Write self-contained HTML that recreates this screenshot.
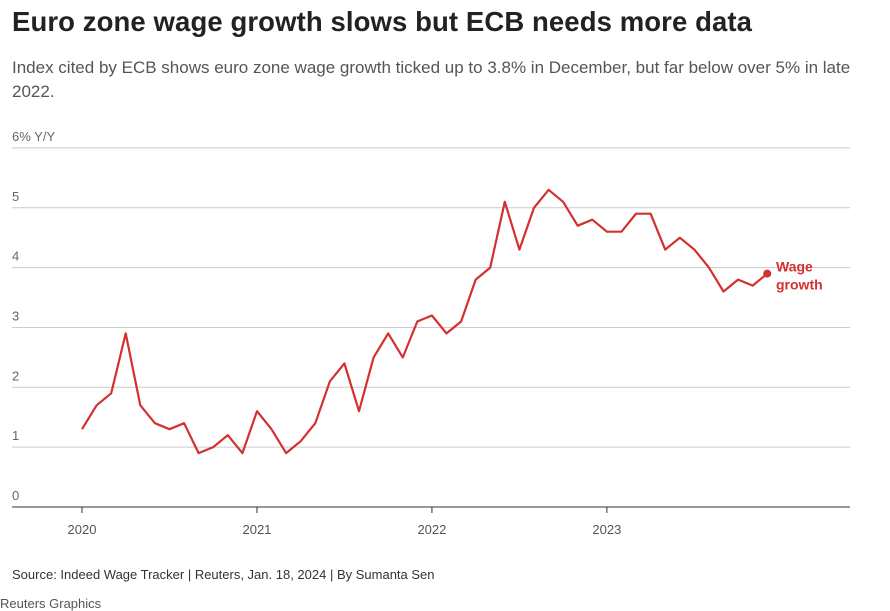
<!DOCTYPE html>
<html><head><meta charset="utf-8"><style>
body{margin:0;background:#fff;width:890px;height:602px;overflow:hidden;font-family:"Liberation Sans",sans-serif;}
#title{position:absolute;left:12px;top:6px;font-size:27.5px;font-weight:bold;color:#222;letter-spacing:0.1px}
#sub{position:absolute;left:12px;top:56px;width:840px;font-size:17px;line-height:24px;color:#555}
#src{position:absolute;left:12px;top:567px;font-size:13px;color:#333}
#brand{position:absolute;left:0;top:596px;font-size:13px;color:#555}
svg{position:absolute;left:0;top:0}
</style></head><body>
<div id="title">Euro zone wage growth slows but ECB needs more data</div>
<div id="sub">Index cited by ECB shows euro zone wage growth ticked up to 3.8% in December, but far below over 5% in late 2022.</div>
<svg id="chart" width="890" height="602"></svg>
<div id="src">Source: Indeed Wage Tracker | Reuters, Jan. 18, 2024 | By Sumanta Sen</div>
<div id="brand">Reuters Graphics</div>
<script>
const yTicks=[0,1,2,3,4,5,6];
const yTickLabels=["0","1","2","3","4","5","6% Y/Y"];
const xYears=[2020,2021,2022,2023];
const wageGrowth=[1.3,1.7,1.9,2.9,1.7,1.4,1.3,1.4,0.9,1.0,1.2,0.9,
1.6,1.3,0.9,1.1,1.4,2.1,2.4,1.6,2.5,2.9,2.5,3.1,
3.2,2.9,3.1,3.8,4.0,5.1,4.3,5.0,5.3,5.1,4.7,4.8,
4.6,4.6,4.9,4.9,4.3,4.5,4.3,4.0,3.6,3.8,3.7,3.9];
const NS="http://www.w3.org/2000/svg";
const svg=document.getElementById('chart');
const y=v=>507-v*59.85;
const x=m=>82+m*14.58; // months since Jan 2020
function mk(t,a){const e=document.createElementNS(NS,t);for(const k in a)e.setAttribute(k,a[k]);svg.appendChild(e);return e;}
yTicks.forEach((v,i)=>{
  const l=mk('line',{x1:12,x2:850,y1:y(v),y2:y(v),stroke:v===0?'#333':'#ccc','stroke-width':1});
  
  
  const t=mk('text',{x:12,y:y(v)-7,'font-size':13,fill:'#666','font-family':'Liberation Sans, sans-serif'});
  t.textContent=yTickLabels[i];
  
  
});
xYears.forEach(yr=>{
  const xx=x((yr-2020)*12);
  const tk=mk('line',{x1:xx,x2:xx,y1:507,y2:513,stroke:'#333'});
  
  
  const t=mk('text',{x:xx,y:534,'font-size':13,fill:'#555','text-anchor':'middle','font-family':'Liberation Sans, sans-serif'});
  t.textContent=yr;
  
  
});
const d=wageGrowth.map((v,i)=>(i?'L':'M')+x(i).toFixed(1)+','+y(v).toFixed(1)).join(' ');
const p=mk('path',{d:d,fill:'none',stroke:'#d33030','stroke-width':2.2,'stroke-linejoin':'round'});


const li=wageGrowth.length-1;
const c=mk('circle',{cx:x(li),cy:y(wageGrowth[li]),r:4,fill:'#d33030'});


const lab=mk('text',{x:776,y:y(wageGrowth[li])-2,'font-size':14,'font-weight':'bold',fill:'#d33030','font-family':'Liberation Sans, sans-serif'});
lab.innerHTML='<tspan x="776">Wage</tspan><tspan x="776" dy="18">growth</tspan>';


</script>
</body></html>
